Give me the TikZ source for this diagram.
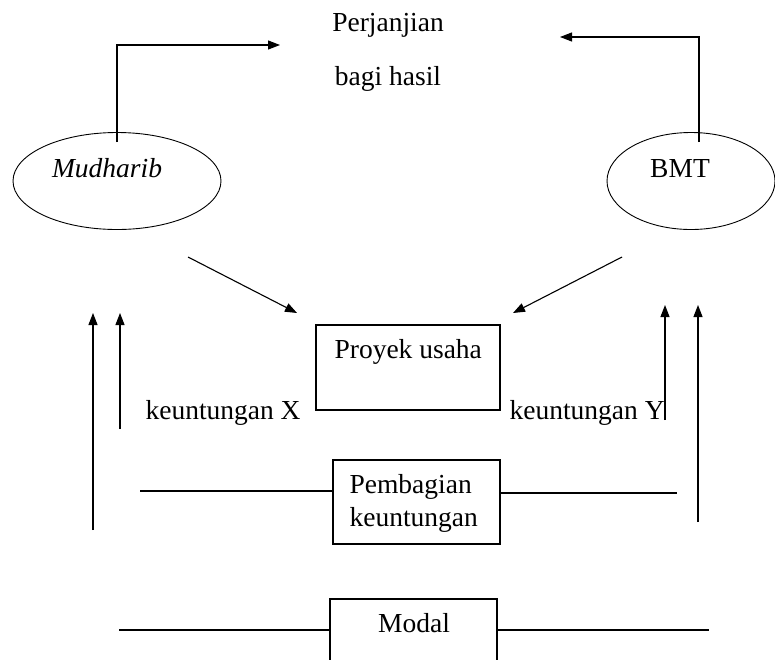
\documentclass[tikz,border=0pt]{standalone}
\usepackage{fontspec}
\setmainfont{Liberation Serif}
\usetikzlibrary{arrows.meta,shapes.geometric}

\begin{document}
\begin{tikzpicture}[x=1pt,y=-1pt,line width=1.1pt,>={Triangle[length=12pt,width=9pt]},
  txt/.style={font=\fontsize{27.5}{32}\selectfont,inner sep=0pt},
  oval/.style={draw,ellipse,line width=0.9pt,inner sep=0pt},
  box/.style={draw,rectangle,inner sep=0pt}]
  \useasboundingbox (0,0) rectangle (775,659);
  % pihak
  \node[oval,minimum width=208,minimum height=97] (mudharib) at (117,181) {};
  \node[oval,minimum width=168,minimum height=97] (bmt) at (691,181) {};
  \node[txt,anchor=base] (mudharibtxt) at (107,177) {\itshape Mudharib};
  \node[txt,anchor=base] (bmttxt) at (680,177) {BMT};
  \node[txt,anchor=base] (perjanjian) at (388,31) {Perjanjian};
  \node[txt,anchor=base] (bagihasil) at (388,85) {bagi hasil};
  % kotak
  \node[box,minimum width=184,minimum height=85] (proyek) at (408,367.5) {};
  \node[box,minimum width=167,minimum height=84] (pembagian) at (416.5,502) {};
  \node[box,minimum width=167,minimum height=85] (modal) at (413.5,641.5) {};
  \node[txt,anchor=base west] (proyektxt) at (334,358) {Proyek usaha};
  \node[txt,anchor=base west] (pembagiantxt) at (349,493) {Pembagian};
  \node[txt,anchor=base west] (keuntungantxt) at (349,526) {keuntungan};
  \node[txt,anchor=base] (modaltxt) at (414,632) {Modal};
  \node[txt,anchor=base west] (untungX) at (145,419) {keuntungan X};
  \node[txt,anchor=base west] (untungY) at (509,419) {keuntungan Y};
  % ujung bebas
  \coordinate (tipL) at (280,45);
  \coordinate (tipR) at (560,37);
  \coordinate (dLa) at (188,257);
  \coordinate (dLb) at (297,313);
  \coordinate (dRa) at (622,257);
  \coordinate (dRb) at (513,313);
  \coordinate (lineL) at (140,491);
  \coordinate (lineR) at (677,493);
  \coordinate (modL) at (119,630);
  \coordinate (modR) at (709,630);
  % panah
  \draw[->] ([yshift=-10pt]mudharib.north) |- (tipL);
  \draw[->] ([xshift=8pt,yshift=-10pt]bmt.north) |- (tipR);
  \draw[->] (dLa) -- (dLb);
  \draw[->] (dRa) -- (dRb);
  \draw[->] (93,530) -- (93,313);
  \draw[->] (120,429) -- (120,313);
  \draw[->] (665,420) -- (665,305);
  \draw[->] (698,522) -- (698,305);
  \draw (lineL) -- (pembagian.west |- lineL);
  \draw (pembagian.east |- lineR) -- (lineR);
  \draw (modL) -- (modal.west |- modL);
  \draw (modal.east |- modR) -- (modR);
\end{tikzpicture}
\end{document}
